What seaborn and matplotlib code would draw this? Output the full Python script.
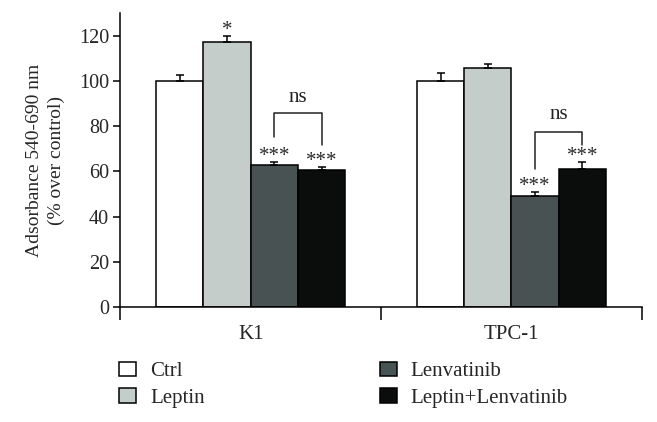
import matplotlib
matplotlib.use("Agg")
import matplotlib.pyplot as plt
import seaborn as sns
import pandas as pd
from matplotlib.patches import Patch, Rectangle

# ---- data ----
cell_lines = ["K1", "TPC-1"]
treatments = ["Ctrl", "Leptin", "Lenvatinib", "Leptin+Lenvatinib"]
k1_values = [100.0, 117.0, 62.6, 60.6]
tpc1_values = [100.0, 105.6, 48.9, 61.2]
k1_errors = [2.4, 3.0, 1.6, 1.2]
tpc1_errors = [3.4, 2.0, 1.8, 3.0]
k1_stars = ["", "*", "***", "***"]
tpc1_stars = ["", "", "***", "***"]
y_ticks = [0, 20, 40, 60, 80, 100, 120]

colors = {"Ctrl": "#ffffff", "Leptin": "#c3ceca",
          "Lenvatinib": "#475454", "Leptin+Lenvatinib": "#0a0d0c"}

rows = []
for t, v in zip(treatments, k1_values):
    rows.append({"line": "K1", "treat": t, "val": v})
for t, v in zip(treatments, tpc1_values):
    rows.append({"line": "TPC-1", "treat": t, "val": v})
df = pd.DataFrame(rows)

sns.set_style("white")
plt.rcParams["font.family"] = ["Liberation Serif", "DejaVu Serif"]

fig = plt.figure(figsize=(6.57, 4.22), dpi=100)
ax = fig.add_axes([0.183, 0.2725, 0.794, 0.6965])

sns.barplot(data=df, x="line", y="val", hue="treat", order=cell_lines,
            hue_order=treatments, palette=colors, edgecolor="black",
            linewidth=1.1, width=0.725, errorbar=None, legend=False, ax=ax)

bars = sorted([p for p in ax.patches if isinstance(p, Rectangle)],
              key=lambda p: p.get_x())
errs = k1_errors + tpc1_errors
stars = k1_stars + tpc1_stars
centers = []
for i, bar in enumerate(bars[:8]):
    x = bar.get_x() + bar.get_width() / 2
    h = bar.get_height()
    e = errs[i]
    centers.append((x, h + e))
    ax.errorbar(x, h, yerr=[[0], [e]], fmt="none", ecolor="black",
                elinewidth=1.1, capsize=2.8, capthick=1.1, zorder=5)
    s = stars[i]
    if s:
        ax.text(x, h + e + 2.4, s, ha="center", va="center",
                fontsize=15, color="#2a2a2a")

# ns brackets
def bracket(gi, yl, yr, ytop, ytext):
    xl = centers[gi * 4 + 2][0]
    xr = centers[gi * 4 + 3][0]
    ax.plot([xl, xl, xr, xr], [yl, ytop, ytop, yr], color="#222222",
            lw=1.1, clip_on=False)
    ax.text((xl + xr) / 2, ytext, "ns", ha="center", va="center",
            fontsize=15, color="#222222")

bracket(0, 75.0, 71.7, 85.8, 92.5)
bracket(1, 61.0, 71.7, 77.4, 85.0)

ax.set_xlim(-0.5, 1.5)
ax.set_ylim(0, 130)
ax.set_yticks(y_ticks)
ax.set_yticklabels([str(t) for t in y_ticks], fontsize=14.5)
ax.set_xticks([0, 1])
ax.set_xticklabels(cell_lines, fontsize=15)
ax.tick_params(axis="x", which="major", length=0, pad=13)
ax.set_xticks([-0.5, 0.5, 1.5], minor=True)
ax.tick_params(axis="x", which="minor", length=9, width=1.1, direction="out",
               color="black", bottom=True)
ax.tick_params(axis="y", length=5, width=1.1, direction="out", color="black",
               left=True, pad=3)
ax.set_xlabel("")
ax.set_ylabel("Adsorbance 540-690 nm\n(% over control)", fontsize=14,
              linespacing=1.35, labelpad=10)
for side in ["top", "right"]:
    ax.spines[side].set_visible(False)
for side in ["left", "bottom"]:
    ax.spines[side].set_color("black")
    ax.spines[side].set_linewidth(1.1)

handles = [Patch(facecolor=colors[t], edgecolor="black", linewidth=1.1)
           for t in treatments]
fig.legend(handles, treatments, loc="upper left",
           bbox_to_anchor=(0.181, 0.143), ncol=2, frameon=False,
           fontsize=15, handlelength=0.82, handleheight=0.67,
           handletextpad=0.67, columnspacing=8.4, labelspacing=0.35,
           borderpad=0, borderaxespad=0)

fig.savefig("out.png", dpi=100)
